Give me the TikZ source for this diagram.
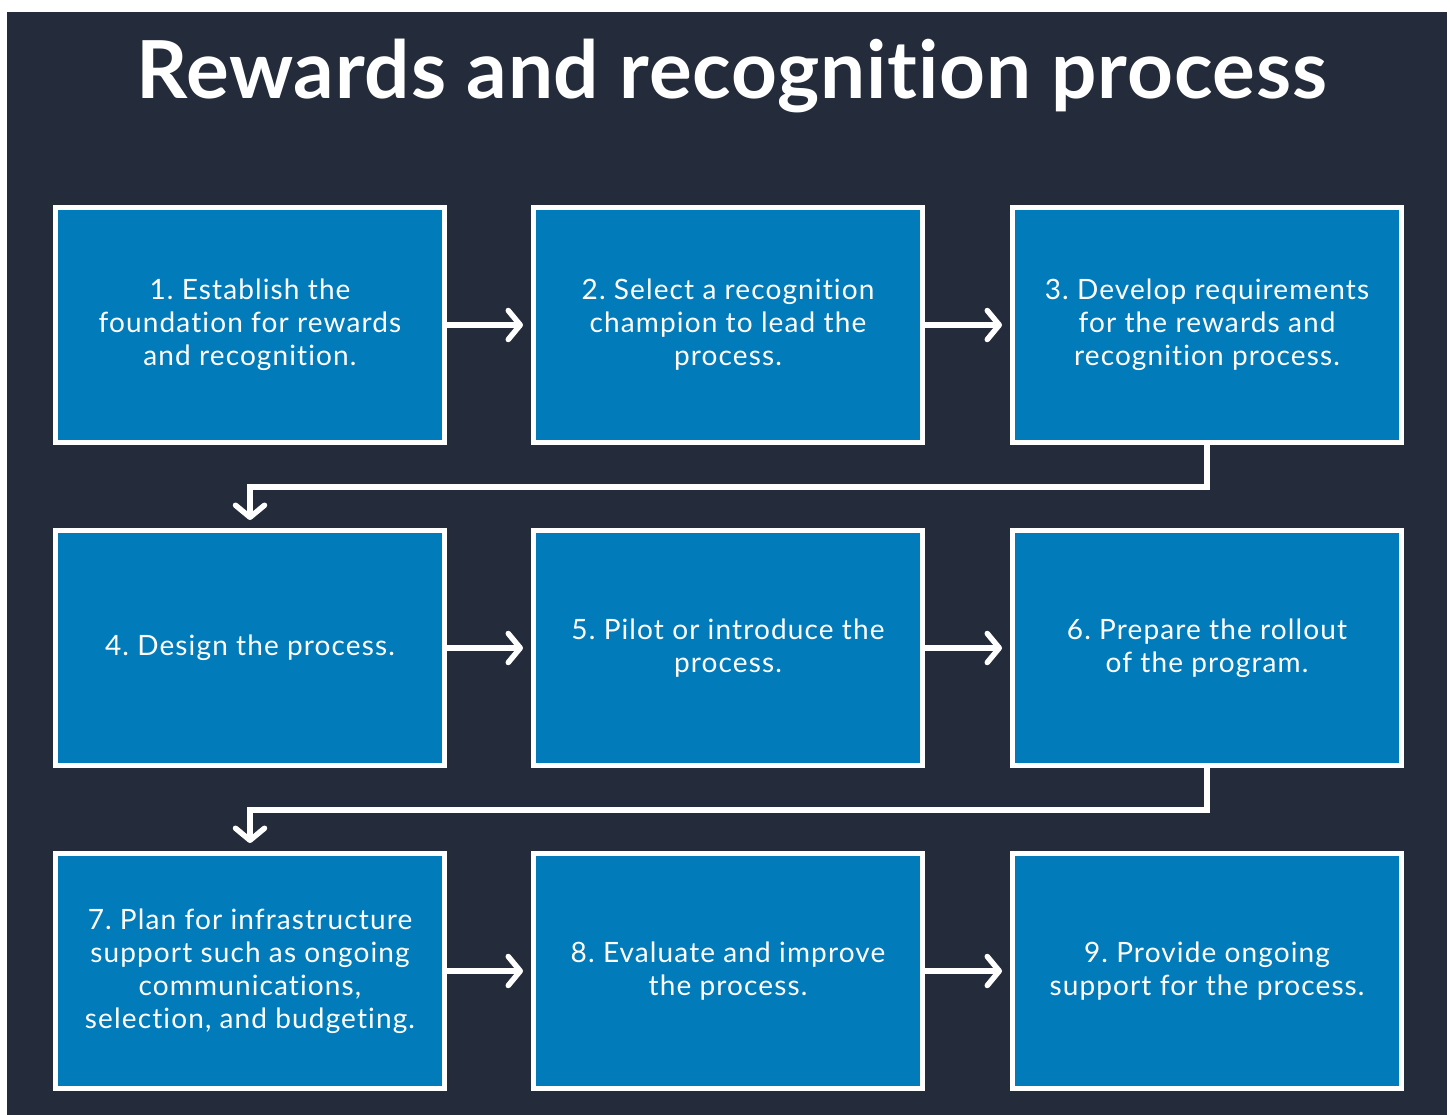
\documentclass[tikz,border=0pt]{standalone}
\usepackage{fontspec}
\setmainfont{Lato}[Ligatures={NoCommon,NoRare}]
\newfontfamily\boxfont{Lato}[LetterSpace=4,Ligatures={NoCommon,NoRare}]
\newfontfamily\titlefont{Lato}[UprightFont=*-Bold,LetterSpace=1,Ligatures={NoCommon,NoRare}]
\usetikzlibrary{arrows.meta}
\definecolor{bgdark}{RGB}{36,43,58}
\definecolor{boxblue}{RGB}{2,123,187}
\frenchspacing
\begin{document}
\begin{tikzpicture}[x=1pt,y=-1pt,
  stepbox/.style={draw=white,line width=5pt,fill=boxblue,minimum width=389pt,minimum height=235pt,
    inner sep=0pt,text=white,align=center,font=\boxfont\fontsize{28}{33}\selectfont\frenchspacing},
  flow/.style={draw=white,line width=5.5pt,-{Straight Barb[length=12pt,width=29pt,line cap=round,line join=round]},shorten >=8pt},
]
\useasboundingbox (0,0) rectangle (1450,1115);
\fill[white] (0,0) rectangle (1450,1115);
\fill[bgdark] (7,12) rectangle (1447,1115);
\node[text=white,font=\titlefont\fontsize{80}{84}\selectfont,anchor=base] (title) at (732,99) {Rewards and recognition process};
\node[stepbox] (b1) at (250,325) {1. Establish the\\foundation for rewards\\and recognition.};
\node[stepbox] (b2) at (728,325) {2. Select a recognition\\champion to lead the\\process.};
\node[stepbox] (b3) at (1207,325) {3. Develop requirements\\for the rewards and\\recognition process.};
\node[stepbox] (b4) at (250,648) {4. Design the process.};
\node[stepbox] (b5) at (728,648) {5. Pilot or introduce the\\process.};
\node[stepbox] (b6) at (1207,648) {6. Prepare the rollout\\of the program.};
\node[stepbox] (b7) at (250,971) {7. Plan for infrastructure\\support such as ongoing\\communications,\\selection, and budgeting.};
\node[stepbox] (b8) at (728,971) {8. Evaluate and improve\\the process.};
\node[stepbox] (b9) at (1207,971) {9. Provide ongoing\\support for the process.};
\draw[flow] (b1) -- (b2);
\draw[flow] (b2) -- (b3);
\draw[flow] (b4) -- (b5);
\draw[flow] (b5) -- (b6);
\draw[flow] (b7) -- (b8);
\draw[flow] (b8) -- (b9);
\draw[flow,line join=miter] (b3.south) -- ++(0,42) -| (b4.north);
\draw[flow,line join=miter] (b6.south) -- ++(0,42) -| (b7.north);
\end{tikzpicture}
\end{document}
